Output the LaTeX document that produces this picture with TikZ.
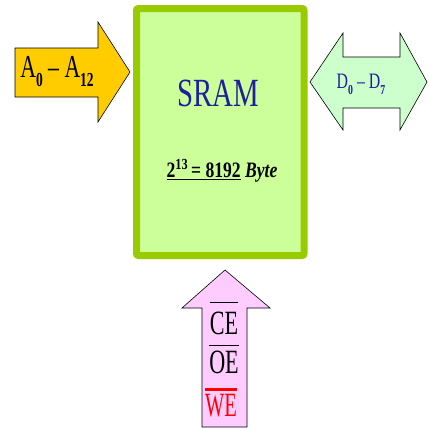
\documentclass[tikz,border=0pt]{standalone}
\usepackage{fontspec}
\setmainfont{Liberation Serif}
\usepackage{graphicx}
\definecolor{boxfill}{HTML}{CCFF99}
\definecolor{boxline}{HTML}{99CC00}
\definecolor{yelarrow}{HTML}{FFCC00}
\definecolor{grnarrow}{HTML}{CCFFCC}
\definecolor{pinkarrow}{HTML}{FFCCFF}
\definecolor{navy}{RGB}{30,30,160}
\definecolor{wered}{HTML}{FF0000}
\newcommand\sqz[2]{\scalebox{#1}[1]{#2}}
\newcommand\fs[1]{\fontsize{#1}{#1}\selectfont}
\newcommand\sub[1]{\raisebox{-0.28em}{\fontsize{0.62em}{0.62em}\selectfont\bfseries #1}}
\tikzset{
  arrowshape/.style={draw=black, line width=0.6pt, line join=miter},
  lbl/.style={inner sep=0pt, anchor=center},
  ovl/.style={line width=1pt}
}
\begin{document}
\begin{tikzpicture}[x=1pt,y=-1pt]
\useasboundingbox (0,0) rectangle (429,429);
\fill[white] (0,0) rectangle (429,429);
% main box
\draw[boxline, fill=boxfill, line width=7pt, rounded corners=2pt] (136.5,8.5) rectangle (304,255.5);
% left arrow
\draw[arrowshape, fill=yelarrow] (15,48) -- (98,48) -- (98,22) -- (130,72) -- (98,122) -- (98,97) -- (15,97) -- cycle;
% right double arrow
\draw[arrowshape, fill=grnarrow] (310,82) -- (343,33) -- (343,57) -- (400,57) -- (400,33) -- (427,82) -- (400,130) -- (400,108) -- (343,108) -- (343,130) -- cycle;
% bottom arrow
\draw[arrowshape, fill=pinkarrow] (225,270) -- (270,308) -- (247,308) -- (247,427) -- (202,427) -- (202,308) -- (182,308) -- cycle;
% texts
\node[lbl, text=navy] (sram) at (218,93) {\sqz{0.72}{\fs{40}SRAM}};
\node[lbl] (size) at (222,171) {\sqz{0.8}{\fs{22}\bfseries\underline{2\textsuperscript{13}\,= 8192}\ \textit{Byte}}};
\node[lbl] (addr) at (57,72) {\sqz{0.68}{\fs{32}A\sub{0} – A\sub{12}}};
\node[lbl, text=navy] (data) at (361,84) {\sqz{0.72}{\fs{22}D\sub{0} – D\sub{7}}};
\node[lbl] (ce) at (224,323) {\sqz{0.65}{\fs{34}CE}};
\node[lbl] (oe) at (224,362) {\sqz{0.65}{\fs{34}OE}};
\node[lbl, text=wered] (we) at (221,406) {\sqz{0.6}{\fs{34}WE}};
\draw[ovl] ([yshift=9pt]ce.north west) -- ([yshift=9pt]ce.north east);
\draw[ovl] ([yshift=5pt]oe.north west) -- ([yshift=5pt]oe.north east);
\draw[ovl, wered, line width=2.5pt] ([yshift=5pt]we.north west) -- ([yshift=5pt]we.north east);
\end{tikzpicture}
\end{document}
